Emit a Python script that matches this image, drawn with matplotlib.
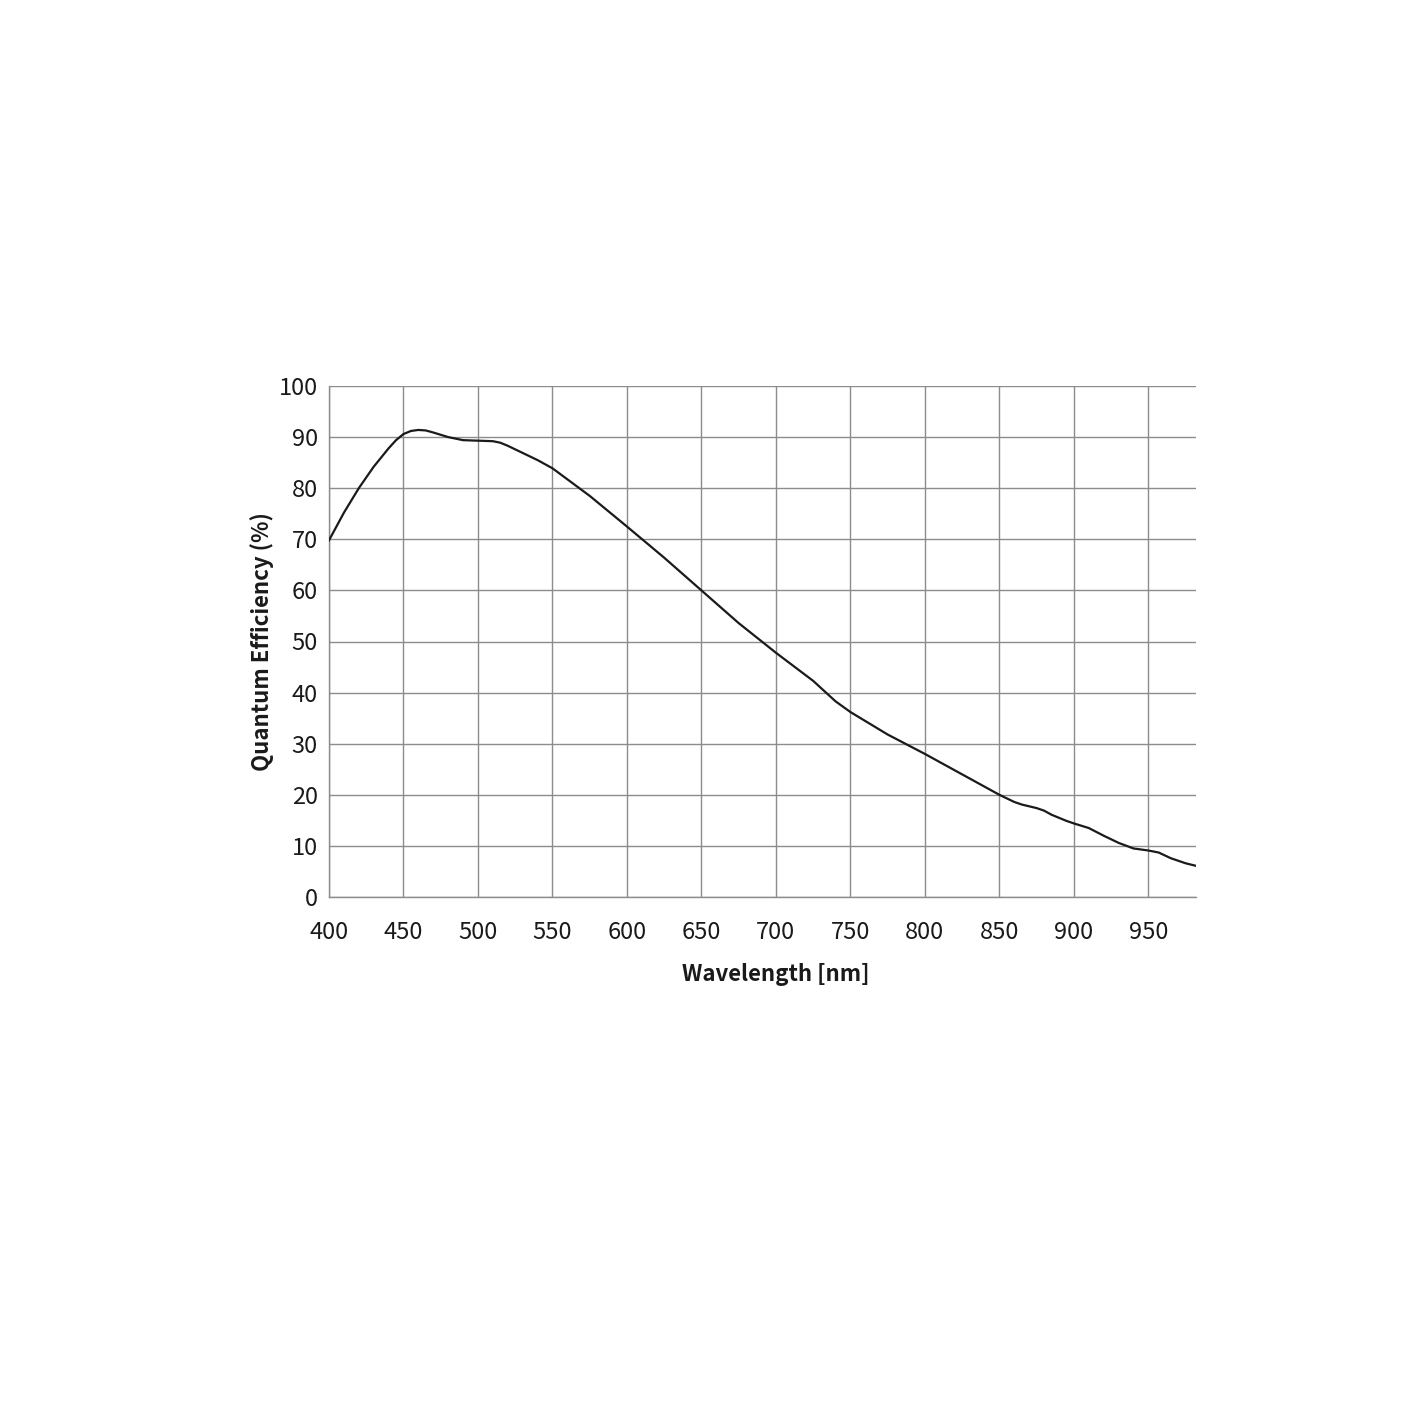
import matplotlib
matplotlib.use("Agg")
import matplotlib.pyplot as plt

wavelength = [400, 410, 420, 430, 440, 445, 450, 455, 460, 465, 470, 480, 490, 500, 510, 515, 520, 530, 540, 550,
              575, 600, 625, 650, 675, 700, 725, 740, 750, 775, 800, 825, 850, 860, 865, 875, 880, 885, 895,
              900, 910, 920, 930, 940, 950, 957, 965, 975, 982]
qe = [69.8, 75.2, 80.0, 84.2, 87.8, 89.4, 90.6, 91.2, 91.4, 91.3, 90.9, 90.0, 89.4, 89.3, 89.2, 88.9, 88.3, 86.9, 85.5, 83.9,
      78.5, 72.5, 66.4, 60.0, 53.6, 47.8, 42.3, 38.3, 36.2, 31.8, 28.0, 24.0, 20.0, 18.6, 18.1, 17.4, 16.9, 16.1, 14.9,
      14.4, 13.5, 12.0, 10.6, 9.5, 9.1, 8.7, 7.6, 6.6, 6.1]

xticks = [400, 450, 500, 550, 600, 650, 700, 750, 800, 850, 900, 950]
yticks = [0, 10, 20, 30, 40, 50, 60, 70, 80, 90, 100]

plt.rcParams['font.family'] = ['Noto Sans CJK SC', 'DejaVu Sans']

fig = plt.figure(figsize=(14.22, 14.22), dpi=100)
ax = fig.add_axes([329/1422, 1 - 897/1422, (1196-329)/1422, (897-386)/1422])

ax.plot(wavelength, qe, color='#1a1a1a', lw=1.6, zorder=3)
ax.set_xlim(400, 982)
ax.set_ylim(0, 100)
ax.set_xticks(xticks)
ax.set_yticks(yticks)
ax.grid(True, color='#8c8c8c', lw=1.0)
for s in ['top', 'right']:
    ax.spines[s].set_visible(False)
for s in ['left', 'bottom']:
    ax.spines[s].set_color('#8c8c8c')
    ax.spines[s].set_linewidth(1.0)
ax.tick_params(axis='both', length=0, labelsize=17, colors='#1a1a1a')
ax.tick_params(axis='x', pad=17)
ax.tick_params(axis='y', pad=8)
ax.set_xlabel('Wavelength [nm]', fontsize=16, fontweight='bold', color='#1a1a1a')
ax.xaxis.set_label_coords(0.515, -0.13)
ax.set_ylabel('Quantum Efficiency (%)', fontsize=16, fontweight='bold', color='#1a1a1a')
ax.yaxis.set_label_coords(-0.064, 0.5)

fig.savefig('out.png', dpi=100, facecolor='white')
